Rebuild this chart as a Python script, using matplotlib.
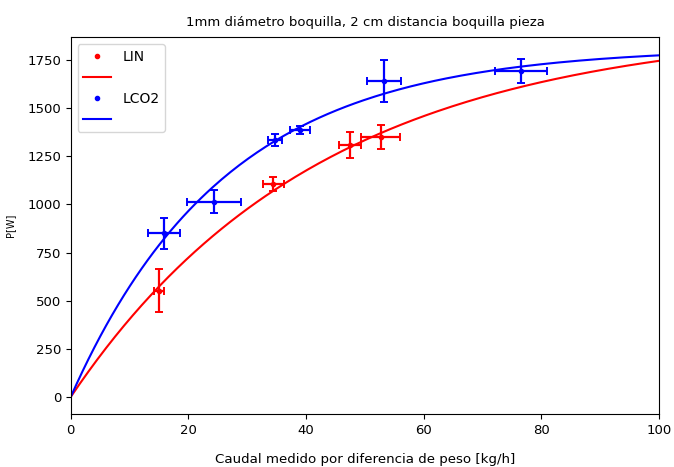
import numpy as np
import matplotlib
matplotlib.use("Agg")
import matplotlib.pyplot as plt

# measured points (caudal kg/h, potencia W) with errors
lin_x = [15.0, 34.4, 47.5, 52.7]
lin_y = [552, 1105, 1308, 1350]
lin_xerr = [0.8, 1.8, 1.85, 3.3]
lin_yerr = [110, 35, 69, 60]

lco2_x = [15.9, 24.4, 34.7, 38.9, 53.2, 76.5]
lco2_y = [850, 1013, 1335, 1385, 1640, 1693]
lco2_xerr = [2.7, 4.6, 1.2, 1.7, 2.9, 4.4]
lco2_yerr = [80, 60, 30, 20, 108, 60]

# fitted saturation curves P = A*(1 - exp(-k*x))
lin_fit = (1930, 0.0235)
lco2_fit = (1815, 0.038)


def model(x, p):
    return p[0] * (1 - np.exp(-p[1] * x))


fig = plt.figure(figsize=(6.74, 4.67), dpi=100)
ax = fig.add_axes([0.105, 0.1135, 0.873, 0.807])

xs = np.linspace(0, 100, 200)

ax.errorbar(lin_x, lin_y, xerr=lin_xerr, yerr=lin_yerr, fmt='none',
            ecolor='r', elinewidth=1.6, capsize=3, capthick=1.4)
ax.plot(lin_x, lin_y, 'r.', label='LIN')
ax.plot(xs, model(xs, lin_fit), color='r', lw=1.5, label=' ')

ax.errorbar(lco2_x, lco2_y, xerr=lco2_xerr, yerr=lco2_yerr, fmt='none',
            ecolor='b', elinewidth=1.6, capsize=3, capthick=1.4)
ax.plot(lco2_x, lco2_y, 'b.', label='LCO2')
ax.plot(xs, model(xs, lco2_fit), color='b', lw=1.5, label=' ')

ax.set_xlim(0, 100)
ax.set_ylim(-89, 1869)
ax.set_yticks(np.arange(0, 1751, 250))
ax.set_xticks(np.arange(0, 101, 20))
ax.tick_params(labelsize=9.5)

ax.set_title("1mm diámetro boquilla, 2 cm distancia boquilla pieza", fontsize=9.5, pad=8)
ax.set_xlabel("Caudal medido por diferencia de peso [kg/h]", fontsize=9.6, labelpad=12)
ax.set_ylabel("P[W]", fontsize=7, labelpad=9)
ax.legend(loc='upper left', fontsize=10)

plt.savefig("out.png", dpi=100)
